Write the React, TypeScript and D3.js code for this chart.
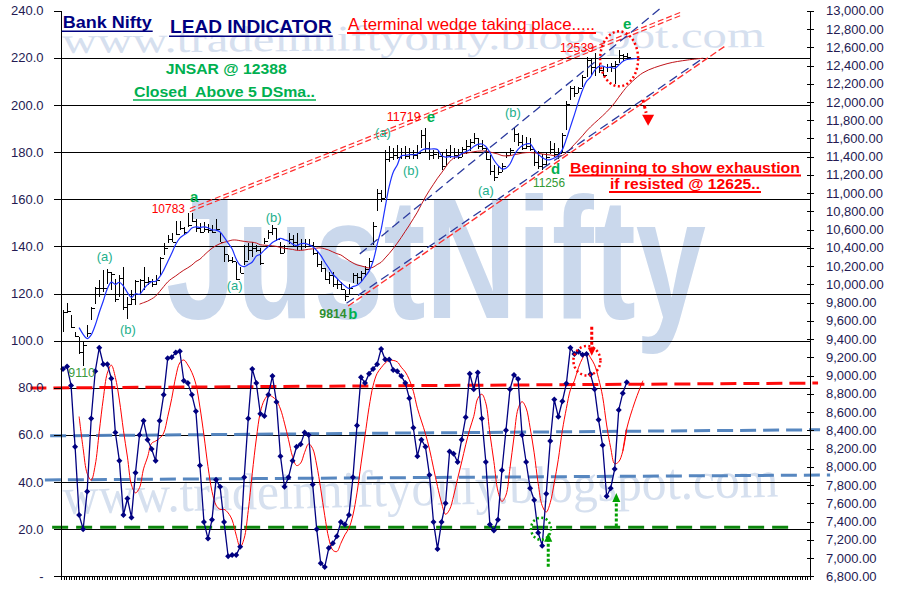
import React from "react";
import * as d3 from "d3";

// ---------------- DATA ----------------
const highs = [
  9716, 9793, 9661, 9478, 9424, 9377, 9552, 9752, 9971, 10044,
  10154, 10172, 10135, 10063, 10099, 10190, 9862, 9935, 10044, 10063,
  10190, 10080, 10060, 10100, 10300, 10450, 10540, 10560, 10690, 10690,
  10630, 10780, 10783, 10720, 10670, 10680, 10660, 10650, 10720, 10570,
  10410, 10320, 10300, 10245, 10190, 10430, 10450, 10465, 10430, 10400,
  10510, 10600, 10650, 10620, 10470, 10430, 10560, 10540, 10560, 10500,
  10500, 10500, 10460, 10370, 10260, 10180, 10140, 10135, 10060, 10030,
  9935, 10000, 10130, 10130, 10150, 10200, 10290, 10680, 11050, 11030,
  11470, 11520, 11500, 11530, 11500, 11520, 11500, 11470, 11530, 11690,
  11719, 11560, 11470, 11470, 11440, 11480, 11530, 11500, 11480, 11510,
  11580, 11590, 11660, 11610, 11580, 11500, 11420, 11310, 11300, 11330,
  11450, 11500, 11710, 11660, 11640, 11620, 11600, 11480, 11460, 11430,
  11450, 11570, 11550, 11500, 11660, 12010, 12180, 12180, 12170, 12300,
  12490, 12470, 12539, 12420, 12380, 12420, 12430, 12450, 12570, 12530,
  12540,
];
const lows = [
  9478, 9683, 9519, 9424, 9242, 9110, 9424, 9607, 9789, 9862,
  9917, 10008, 9935, 9807, 9862, 9716, 9625, 9771, 9771, 9899,
  9935, 9990, 9970, 9990, 10100, 10320, 10450, 10460, 10540, 10600,
  10540, 10630, 10680, 10570, 10560, 10570, 10560, 10560, 10590, 10460,
  10245, 10245, 10230, 10045, 10120, 10210, 10265, 10300, 10355, 10210,
  10440, 10500, 10540, 10480, 10330, 10350, 10440, 10420, 10380, 10380,
  10400, 10410, 10320, 10190, 10140, 10045, 10000, 9970, 9950, 9935,
  9814, 9900, 10020, 10000, 10040, 10080, 10160, 10430, 10800, 10900,
  10950, 11340, 11360, 11380, 11370, 11380, 11370, 11380, 11380, 11500,
  11450, 11360, 11380, 11370, 11250, 11300, 11390, 11380, 11370, 11400,
  11430, 11460, 11540, 11480, 11470, 11360, 11200, 11130, 11200, 11230,
  11390, 11420, 11560, 11520, 11470, 11490, 11460, 11300, 11270, 11256,
  11300, 11430, 11400, 11380, 11450, 11690, 12020, 12060, 12100, 12170,
  12270, 12300, 12280, 12320, 12280, 12330, 12330, 12200, 12430, 12450,
  12460,
];
const closes = [
  9697, 9705, 9530, 9440, 9260, 9333, 9465, 9741, 9964, 9957,
  9964, 10135, 10110, 9836, 10074, 9752, 9782, 9844, 10037, 10044,
  10026, 10040, 10010, 10050, 10285, 10400, 10500, 10470, 10550, 10620,
  10570, 10650, 10700, 10620, 10580, 10610, 10600, 10580, 10610, 10470,
  10330, 10270, 10260, 10060, 10130, 10260, 10380, 10400, 10380, 10240,
  10480, 10580, 10620, 10500, 10350, 10400, 10500, 10460, 10420, 10450,
  10420, 10430, 10340, 10220, 10180, 10060, 10100, 10000, 10000, 9950,
  9870, 9960, 10100, 10080, 10120, 10170, 10260, 10640, 11000, 10950,
  11380, 11400, 11420, 11400, 11450, 11410, 11430, 11420, 11440, 11640,
  11500, 11420, 11430, 11410, 11300, 11420, 11450, 11420, 11400, 11480,
  11520, 11560, 11600, 11520, 11500, 11380, 11240, 11180, 11230, 11300,
  11420, 11470, 11650, 11560, 11500, 11520, 11480, 11340, 11300, 11320,
  11400, 11480, 11430, 11440, 11640, 11980, 12150, 12100, 12150, 12270,
  12460, 12380, 12480, 12350, 12300, 12380, 12400, 12420, 12520, 12500,
  12490,
];
const stochK = [
  88, 89, 81, 55, 26, 20, 36, 67, 87, 97,
  90, 90, 84, 61, 49, 26, 33, 25, 44, 60,
  66, 58, 54, 49, 66, 77, 92.5, 93, 95, 95.5,
  83, 82, 77, 70, 47, 23, 16, 24, 41, 38,
  23, 8.5, 9, 9, 12.5, 42, 67, 88, 82, 69,
  68, 77, 85, 74, 51, 38, 42, 49, 55, 56,
  61, 60, 39, 20, 5.5, 4, 12, 14, 17, 23,
  22, 26, 42, 64, 84.5, 82, 86, 88, 90, 96.5,
  92, 92, 87.6, 87, 85, 82, 75.6, 63, 51, 58,
  55, 43, 23, 11.6, 23, 31, 53, 52, 48.5, 58,
  67.5, 86, 79.4, 86.5, 67, 48.5, 22, 19.4, 24, 45,
  62, 79.4, 85.4, 83.7, 60, 48.5, 37.4, 32.4, 18.5, 13,
  35, 57.4, 75, 67.7, 74.3, 81.8, 97, 94.3, 95.3, 94,
  94.3, 85.7, 79.4, 66.4, 55.6, 34, 37.4, 45.5, 70.6, 77.7,
  82.4,
];
const leftTickValues = [0, 20, 40, 60, 80, 100, 120, 140, 160, 180, 200, 220, 240];
const rightTickValues = [
  6800, 7000, 7200, 7400, 7600, 7800, 8000, 8200, 8400, 8600, 8800, 9000, 9200,
  9400, 9600, 9800, 10000, 10200, 10400, 10600, 10800, 11000, 11200, 11400,
  11600, 11800, 12000, 12200, 12400, 12600, 12800, 13000,
];
const CATEGORY_COUNT = 186;
const AXIS_TICK_COUNT = 292;

// moving average periods shown on the chart
const PRICE_FAST = 5;
const PRICE_SLOW = 20;
const STOCH_SIGNAL = 5;

const FONT = "'Liberation Sans', Arial, Helvetica, sans-serif";
const SERIF = "'Liberation Serif', 'Times New Roman', serif";

function sma(arr: number[], n: number): (number | null)[] {
  return arr.map((_, i) => (i < n - 1 ? null : (d3.mean(arr.slice(i - n + 1, i + 1)) as number)));
}

export default function App() {
  const W = 898, H = 611;
  const L = 61, R = 810, T = 10.8, B = 576.3;
  const xs = d3.scaleLinear().domain([-0.5, CATEGORY_COUNT - 0.5]).range([L, R]);
  const yl = d3.scaleLinear().domain([0, 240]).range([B, T]);
  const yr = d3.scaleLinear().domain([6800, 13000]).range([B, T]);
  const xt = d3.scaleLinear().domain([0, AXIS_TICK_COUNT]).range([L, R]);

  const fast = sma(closes, PRICE_FAST);
  const slow = sma(closes, PRICE_SLOW);
  const signal = sma(stochK, STOCH_SIGNAL);

  const priceLine = d3
    .line<number | null>()
    .defined((d) => d != null)
    .x((_, i) => xs(i))
    .y((d) => yr(d as number))
    .curve(d3.curveCatmullRom.alpha(0.5));
  const oscLine = d3
    .line<number | null>()
    .defined((d) => d != null)
    .x((_, i) => xs(i))
    .y((d) => yl(d as number))
    .curve(d3.curveCatmullRom.alpha(0.5));
  const kLine = d3
    .line<number>()
    .x((_, i) => xs(i))
    .y((d) => yl(d));
  const extPrice = d3
    .line<number[]>()
    .x((d) => xs(d[0]))
    .y((d) => yr(d[1]))
    .curve(d3.curveCatmullRom.alpha(0.5));
  const extOsc = d3
    .line<number[]>()
    .x((d) => xs(d[0]))
    .y((d) => yl(d[1]))
    .curve(d3.curveCatmullRom.alpha(0.5));

  // hand drawn annotations (data space)
  const oscLevels = [
    { a: [-8.1, 79.9], b: [187.5, 82.0], c: "#FF0000", dash: "16 7" },
    { a: [-3.2, 59.6], b: [188, 62.2], c: "#4F81BD", dash: "16 7" },
    { a: [-4.5, 40.9], b: [190.5, 43.0], c: "#4F81BD", dash: "16 7" },
    { a: [-2.7, 20.8], b: [180.5, 20.8], c: "#008000", dash: "16 8" },
  ];
  const wedge = [
    { a: [31.5, 10797], b: [153.7, 12954], c: "#FF3030", dash: "6 3", w: 1.2, off: 0 },
    { a: [31.5, 10797], b: [153.7, 12954], c: "#FF3030", dash: "6 3", w: 1.2, off: -3.2 },
    { a: [73.7, 10335], b: [148.7, 13039], c: "#2B3A9E", dash: "9 5", w: 1.3, off: 0 },
    { a: [70.4, 9793], b: [158.9, 12479], c: "#2B3A9E", dash: "9 5", w: 1.3, off: 0 },
    { a: [70.8, 9764], b: [164.8, 12625], c: "#FF3030", dash: "7 3", w: 1.4, off: 0 },
  ];
  const last = closes.length - 1;
  const slowExt = [
    [last, slow[last] as number],
    [144, 12320],
    [150, 12420],
    [155, 12460],
    [159, 12480],
  ];
  const fastExt = [
    [last, fast[last] as number],
    [143, 12480],
  ];
  const signalExt = [
    [last - 1, signal[last - 1] as number],
    [last, signal[last] as number],
    [142, 74],
    [144, 83],
  ];

  const texts = [
    { t: "Bank Nifty", x: 62.7, y: 28.3, s: 16, w: "bold", f: "#000080", len: 89, ul: 1.4 },
    { t: "LEAD INDICATOR", x: 170, y: 33.3, s: 18, w: "bold", f: "#000080", len: 161.7, ul: 1.5 },
    { t: "A terminal wedge taking place.....", x: 348, y: 30, s: 17, w: "normal", f: "#FF0000", len: 247, ul: 2 },
    { t: "JNSAR @ 12388", x: 165.7, y: 74, s: 15.5, w: "bold", f: "#00B050", len: 121, ul: 0 },
    { t: "Closed  Above 5 DSma..", x: 134, y: 97, s: 15.5, w: "bold", f: "#00B050", len: 181, ul: 1.5 },
    { t: "Beginning to show exhaustion", x: 570, y: 172.5, s: 15.5, w: "bold", f: "#FF0000", len: 230, ul: 2 },
    { t: "if resisted @ 12625..", x: 610, y: 189, s: 15.5, w: "bold", f: "#FF0000", len: 150, ul: 2 },
    { t: "12539", x: 560, y: 51.5, s: 13, w: "normal", f: "#FF0000", len: 34, ul: 0 },
    { t: "e", x: 623, y: 29, s: 15, w: "bold", f: "#00B050", len: 0, ul: 0 },
    { t: "11719", x: 386.7, y: 121, s: 13, w: "normal", f: "#FF0000", len: 34, ul: 0 },
    { t: "e", x: 426.7, y: 122, s: 15, w: "bold", f: "#00B050", len: 0, ul: 0 },
    { t: "(a)", x: 375, y: 137, s: 13, w: "normal", f: "#1DB08C", len: 0, ul: 0 },
    { t: "(b)", x: 403, y: 175, s: 13, w: "normal", f: "#1DB08C", len: 0, ul: 0 },
    { t: "(b)", x: 505, y: 117, s: 13, w: "normal", f: "#1DB08C", len: 0, ul: 0 },
    { t: "(a)", x: 478, y: 195, s: 13, w: "normal", f: "#1DB08C", len: 0, ul: 0 },
    { t: "d", x: 551, y: 174, s: 15, w: "bold", f: "#00B050", len: 0, ul: 0 },
    { t: "11256", x: 533, y: 187, s: 13, w: "normal", f: "#339933", len: 32, ul: 0 },
    { t: "10783", x: 151.7, y: 213.3, s: 13, w: "normal", f: "#FF0000", len: 33.3, ul: 0 },
    { t: "a", x: 190, y: 201.7, s: 15, w: "bold", f: "#00B050", len: 0, ul: 0 },
    { t: "(a)", x: 96.7, y: 261, s: 13, w: "normal", f: "#1DB08C", len: 0, ul: 0 },
    { t: "(b)", x: 120, y: 334, s: 13, w: "normal", f: "#1DB08C", len: 0, ul: 0 },
    { t: "(a)", x: 226.7, y: 290, s: 13, w: "normal", f: "#1DB08C", len: 0, ul: 0 },
    { t: "(b)", x: 265.7, y: 222, s: 13, w: "normal", f: "#1DB08C", len: 0, ul: 0 },
    { t: "9814", x: 319.3, y: 318.3, s: 13, w: "bold", f: "#2F8F2F", len: 27.4, ul: 0 },
    { t: "b", x: 348.3, y: 319, s: 15, w: "bold", f: "#00B050", len: 0, ul: 0 },
    { t: "9110", x: 68.3, y: 376.7, s: 13, w: "normal", f: "#3C9A3C", len: 26.7, ul: 0 },
  ];

  const tri = (x: number, y: number, dir: "down" | "up", w: number, h: number) =>
    dir === "down"
      ? `M${x - w / 2},${y - h} L${x + w / 2},${y - h} L${x},${y} Z`
      : `M${x - w / 2},${y + h} L${x + w / 2},${y + h} L${x},${y} Z`;

  const pxBar = (i: number) => Math.round(xs(i)) + 0.5;

  return (
    <svg
      width={W}
      height={H}
      style={{ position: "absolute", left: 0, top: 0, background: "#fff" }}
      fontFamily={FONT}
    >
      <rect x={0} y={0} width={W} height={H} fill="#fff" />
      {/* watermarks */}
      <text x={62} y={53} fontFamily={SERIF} fontSize={36} fill="#D6E0EF" textLength={703} lengthAdjust="spacingAndGlyphs" transform="rotate(-0.5 62 53)">
        www.tradeinniftyonly.blogspot.com
      </text>
      <text x={166} y={318} fontFamily={FONT} fontWeight="bold" fontSize={172} fill="#CAD8EC" textLength={540} lengthAdjust="spacingAndGlyphs">
        JustNifty
      </text>
      <text x={63} y={514} fontFamily={SERIF} fontSize={52} fill="#D6E0EF" textLength={716} lengthAdjust="spacingAndGlyphs" transform="rotate(-1.4 63 514)">
        www.tradeinniftyonly.blogspot.com
      </text>

      {/* grid */}
      {leftTickValues.filter((v) => v > 0 && v < 240).map((v) => (
        <line key={"g" + v} x1={L} x2={R} y1={Math.round(yl(v)) + 0.5} y2={Math.round(yl(v)) + 0.5} stroke="#000" strokeWidth={1} />
      ))}

      {/* oscillator level lines */}
      {oscLevels.map((o, k) => (
        <line key={"ol" + k} x1={xs(o.a[0])} y1={yl(o.a[1])} x2={xs(o.b[0])} y2={yl(o.b[1])} stroke={o.c} strokeWidth={3} strokeDasharray={o.dash} opacity={0.95} />
      ))}

      {/* stochastic */}
      <path d={oscLine(signal) || ""} fill="none" stroke="#FF0000" strokeWidth={1} />
      <path d={extOsc(signalExt) || ""} fill="none" stroke="#FF0000" strokeWidth={1} />
      <path d={kLine(stochK) || ""} fill="none" stroke="#000080" strokeWidth={1.3} />
      {stochK.map((v, i) => (
        <path key={"dm" + i} d={`M${xs(i)},${yl(v) - 3} L${xs(i) + 3},${yl(v)} L${xs(i)},${yl(v) + 3} L${xs(i) - 3},${yl(v)} Z`} fill="#000080" />
      ))}

      {/* price bars */}
      <g shapeRendering="crispEdges" stroke="#000" strokeWidth={1}>
        {closes.map((c, i) => (
          <g key={"b" + i}>
            <line x1={pxBar(i)} x2={pxBar(i)} y1={yr(highs[i])} y2={yr(lows[i])} />
            <line x1={pxBar(i)} x2={pxBar(i) + 3} y1={Math.round(yr(c)) + 0.5} y2={Math.round(yr(c)) + 0.5} />
          </g>
        ))}
      </g>
      <path d={priceLine(slow) || ""} fill="none" stroke="#C0141A" strokeWidth={1} />
      <path d={extPrice(slowExt) || ""} fill="none" stroke="#C0141A" strokeWidth={1} />
      <path d={priceLine(fast) || ""} fill="none" stroke="#1E32FF" strokeWidth={1.2} />
      <path d={extPrice(fastExt) || ""} fill="none" stroke="#1E32FF" strokeWidth={1.2} />

      {/* wedge lines */}
      {wedge.map((o, k) => (
        <line key={"w" + k} x1={xs(o.a[0])} y1={yr(o.a[1]) + o.off} x2={xs(o.b[0])} y2={yr(o.b[1]) + o.off} stroke={o.c} strokeWidth={o.w} strokeDasharray={o.dash} />
      ))}

      {/* circles and arrows */}
      <ellipse cx={xs(138.1)} cy={yr(12473)} rx={19} ry={27.5} fill="none" stroke="#FF0000" strokeWidth={2.5} strokeDasharray="2 2.5" />
      <ellipse cx={xs(130.1)} cy={yl(91.5)} rx={13.5} ry={14.7} fill="none" stroke="#FF0000" strokeWidth={2.5} strokeDasharray="2 2.5" />
      <line x1={xs(131.3)} x2={xs(131.3)} y1={yl(105.9)} y2={yl(97)} stroke="#FF0000" strokeWidth={3} strokeDasharray="3 2" />
      <path d={tri(xs(131.3), yl(93.6), "down", 8, 8)} fill="#FF0000" />
      <line x1={xs(144.0)} y1={yr(12024)} x2={xs(144.8)} y2={yr(11882)} stroke="#FF0000" strokeWidth={3} strokeDasharray="3 3" />
      <path d={tri(xs(145.3), yr(11739), "down", 12, 11)} fill="#FF0000" />
      <ellipse cx={xs(118.7)} cy={yl(20.2)} rx={10} ry={11} fill="none" stroke="#00A000" strokeWidth={2.5} strokeDasharray="2 2.5" />
      <line x1={xs(120.5)} x2={xs(120.5)} y1={yl(4.1)} y2={yl(15.5)} stroke="#00A000" strokeWidth={3} strokeDasharray="3 2" />
      <path d={tri(xs(120.5), yl(18.5), "up", 8, 9)} fill="#00A000" />
      <line x1={xs(137.4)} x2={xs(137.4)} y1={yl(21.1)} y2={yl(31.5)} stroke="#00A000" strokeWidth={3} strokeDasharray="3 2" />
      <path d={tri(xs(137.4), yl(35.4), "up", 8, 9)} fill="#00A000" />

      {/* axes */}
      <g stroke="#000" strokeWidth={1} shapeRendering="crispEdges">
        <line x1={L + 0.5} x2={L + 0.5} y1={T} y2={B} />
        <line x1={R + 0.5} x2={R + 0.5} y1={T} y2={B} />
        <line x1={L} x2={R + 1} y1={Math.round(B) + 0.5} y2={Math.round(B) + 0.5} />
        {leftTickValues.map((v) => (
          <line key={"lt" + v} x1={L - 7} x2={L} y1={Math.round(yl(v)) + 0.5} y2={Math.round(yl(v)) + 0.5} />
        ))}
        {rightTickValues.map((v) => (
          <line key={"rt" + v} x1={R - 3} x2={R + 4} y1={Math.round(yr(v)) + 0.5} y2={Math.round(yr(v)) + 0.5} />
        ))}
        {d3.range(AXIS_TICK_COUNT + 1).map((k) => (
          <line key={"bt" + k} x1={Math.round(xt(k)) + 0.5} x2={Math.round(xt(k)) + 0.5} y1={B} y2={B + 4} />
        ))}
      </g>
      {leftTickValues.map((v) => (
        <text key={"ll" + v} x={43.5} y={yl(v) + 4.5} textAnchor="end" fontSize={13} fill="#241a52">
          {v === 0 ? "-" : d3.format(".1f")(v)}
        </text>
      ))}
      {rightTickValues.map((v) => (
        <text key={"rl" + v} x={826} y={yr(v) + 4.5} fontSize={13} fill="#241a52">
          {d3.format(",.2f")(v)}
        </text>
      ))}

      {/* annotation texts */}
      {texts.map((o, k) => (
        <g key={"t" + k}>
          <text
            x={o.x}
            y={o.y}
            fontSize={o.s}
            fontWeight={o.w}
            fill={o.f}
            style={{ whiteSpace: "pre" }}
            {...(o.len ? { textLength: o.len, lengthAdjust: "spacingAndGlyphs" } : {})}
          >
            {o.t}
          </text>
          {o.ul ? <line x1={o.x - 1} x2={o.x + o.len + 1} y1={o.y + 3} y2={o.y + 3} stroke={o.f} strokeWidth={o.ul} /> : null}
        </g>
      ))}
    </svg>
  );
}
